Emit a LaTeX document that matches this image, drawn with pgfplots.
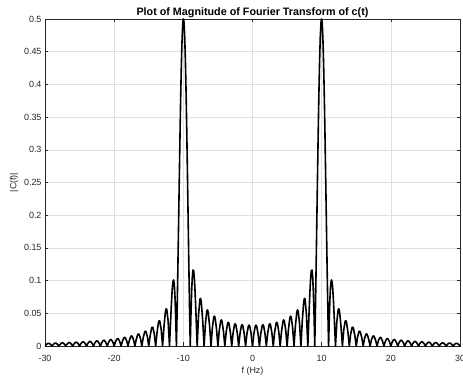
\documentclass[border=0pt]{standalone}
\usepackage{pgfplots}
\pgfplotsset{compat=1.18}
\usepackage{pgfplotstable}
\usepackage{fontspec}
\setmainfont{Liberation Sans}
\definecolor{axgray}{gray}{0.15}
\definecolor{gridgray}{gray}{0.88}

\pgfplotstableread{
f v
0 0
0.2 0.01872
0.4 0.03032
0.5 0.03191
0.6 0.03038
0.8 0.01883
1 0
1.2 0.01898
1.4 0.03088
1.5 0.03256
1.6 0.03107
1.8 0.01934
2 0
2.2 0.01966
2.4 0.03213
2.5 0.03395
2.6 0.03247
2.8 0.02030
3 0
3.2 0.02084
3.4 0.03423
3.5 0.03628
3.6 0.03478
3.8 0.02187
4 0
4.2 0.02272
4.4 0.03754
4.5 0.03991
4.6 0.03840
4.8 0.02431
5 0
5.2 0.02564
5.4 0.04274
5.5 0.04564
5.6 0.04411
5.8 0.02820
6 0
6.2 0.03039
6.4 0.05128
6.5 0.05512
6.6 0.05364
6.8 0.03480
7 0
7.2 0.03885
7.4 0.06692
7.5 0.07276
7.6 0.07167
7.8 0.04778
8 0
8.1 0.02860
8.2 0.05711
8.3 0.08277
8.4 0.10284
8.5 0.11471
8.6 0.11626
8.7 0.10593
8.8 0.08294
8.9 0.04731
9 0
9.1 0.0572
9.2 0.1218
9.3 0.1906
9.4 0.2601
9.5 0.3265
9.6 0.3861
9.7 0.4357
9.8 0.4725
9.9 0.4943
9.95 0.4992
10 0.5
10.05 0.4967
10.1 0.4894
10.2 0.4631
10.3 0.4229
10.4 0.3710
10.5 0.3105
10.6 0.2449
10.7 0.1777
10.8 0.1124
10.9 0.0523
11 0
11.1 0.04238
11.2 0.07355
11.3 0.09300
11.4 0.10105
11.5 0.09870
11.6 0.08760
11.7 0.06981
11.8 0.04768
11.9 0.02364
12 0
12.2 0.03831
12.4 0.05631
12.5 0.05659
12.6 0.05152
12.8 0.02931
13 0
13.2 0.02520
13.4 0.03805
13.5 0.03870
13.6 0.03563
13.8 0.02069
14 0
14.2 0.01841
14.4 0.02820
14.5 0.02887
14.6 0.02675
14.8 0.01572
15 0
15.2 0.01428
15.4 0.02207
15.5 0.02270
15.6 0.02112
15.8 0.01250
16 0
16.2 0.01152
16.4 0.01792
16.5 0.01848
16.6 0.01724
16.8 0.01027
17 0
17.2 0.00955
17.4 0.01493
17.5 0.01543
17.6 0.01443
17.8 0.00863
18 0
18.2 0.00809
18.4 0.01269
18.5 0.01314
18.6 0.01231
18.8 0.00738
19 0
19.2 0.00696
19.4 0.01095
19.5 0.01136
19.6 0.01065
19.8 0.00641
20 0
20.2 0.00607
20.4 0.00958
20.5 0.00994
20.6 0.00933
20.8 0.00562
21 0
21.2 0.00535
21.4 0.00846
21.5 0.00879
21.6 0.00826
21.8 0.00499
22 0
22.2 0.00476
22.4 0.00754
22.5 0.00784
22.6 0.00737
22.8 0.00446
23 0
23.2 0.00427
23.4 0.00676
23.5 0.00704
23.6 0.00663
23.8 0.00401
24 0
24.2 0.00385
24.4 0.00611
24.5 0.00636
24.6 0.00599
24.8 0.00363
25 0
25.2 0.00350
25.4 0.00555
25.5 0.00579
25.6 0.00545
25.8 0.00331
26 0
26.2 0.00319
26.4 0.00507
26.5 0.00529
26.6 0.00498
26.8 0.00303
27 0
27.2 0.00292
27.4 0.00465
27.5 0.00485
27.6 0.00457
27.8 0.00278
28 0
28.2 0.00269
28.4 0.00428
28.5 0.00447
28.6 0.00422
28.8 0.00257
29 0
29.2 0.00249
29.4 0.00396
29.5 0.00413
29.6 0.00390
29.8 0.00237
30 0
}\pos

\pgfplotstableread{
f v
-0 0
-0.2 0.01872
-0.4 0.03032
-0.5 0.03191
-0.6 0.03038
-0.8 0.01883
-1 0
-1.2 0.01898
-1.4 0.03088
-1.5 0.03256
-1.6 0.03107
-1.8 0.01934
-2 0
-2.2 0.01966
-2.4 0.03213
-2.5 0.03395
-2.6 0.03247
-2.8 0.02030
-3 0
-3.2 0.02084
-3.4 0.03423
-3.5 0.03628
-3.6 0.03478
-3.8 0.02187
-4 0
-4.2 0.02272
-4.4 0.03754
-4.5 0.03991
-4.6 0.03840
-4.8 0.02431
-5 0
-5.2 0.02564
-5.4 0.04274
-5.5 0.04564
-5.6 0.04411
-5.8 0.02820
-6 0
-6.2 0.03039
-6.4 0.05128
-6.5 0.05512
-6.6 0.05364
-6.8 0.03480
-7 0
-7.2 0.03885
-7.4 0.06692
-7.5 0.07276
-7.6 0.07167
-7.8 0.04778
-8 0
-8.1 0.02860
-8.2 0.05711
-8.3 0.08277
-8.4 0.10284
-8.5 0.11471
-8.6 0.11626
-8.7 0.10593
-8.8 0.08294
-8.9 0.04731
-9 0
-9.1 0.0572
-9.2 0.1218
-9.3 0.1906
-9.4 0.2601
-9.5 0.3265
-9.6 0.3861
-9.7 0.4357
-9.8 0.4725
-9.9 0.4943
-9.95 0.4992
-10 0.5
-10.05 0.4967
-10.1 0.4894
-10.2 0.4631
-10.3 0.4229
-10.4 0.3710
-10.5 0.3105
-10.6 0.2449
-10.7 0.1777
-10.8 0.1124
-10.9 0.0523
-11 0
-11.1 0.04238
-11.2 0.07355
-11.3 0.09300
-11.4 0.10105
-11.5 0.09870
-11.6 0.08760
-11.7 0.06981
-11.8 0.04768
-11.9 0.02364
-12 0
-12.2 0.03831
-12.4 0.05631
-12.5 0.05659
-12.6 0.05152
-12.8 0.02931
-13 0
-13.2 0.02520
-13.4 0.03805
-13.5 0.03870
-13.6 0.03563
-13.8 0.02069
-14 0
-14.2 0.01841
-14.4 0.02820
-14.5 0.02887
-14.6 0.02675
-14.8 0.01572
-15 0
-15.2 0.01428
-15.4 0.02207
-15.5 0.02270
-15.6 0.02112
-15.8 0.01250
-16 0
-16.2 0.01152
-16.4 0.01792
-16.5 0.01848
-16.6 0.01724
-16.8 0.01027
-17 0
-17.2 0.00955
-17.4 0.01493
-17.5 0.01543
-17.6 0.01443
-17.8 0.00863
-18 0
-18.2 0.00809
-18.4 0.01269
-18.5 0.01314
-18.6 0.01231
-18.8 0.00738
-19 0
-19.2 0.00696
-19.4 0.01095
-19.5 0.01136
-19.6 0.01065
-19.8 0.00641
-20 0
-20.2 0.00607
-20.4 0.00958
-20.5 0.00994
-20.6 0.00933
-20.8 0.00562
-21 0
-21.2 0.00535
-21.4 0.00846
-21.5 0.00879
-21.6 0.00826
-21.8 0.00499
-22 0
-22.2 0.00476
-22.4 0.00754
-22.5 0.00784
-22.6 0.00737
-22.8 0.00446
-23 0
-23.2 0.00427
-23.4 0.00676
-23.5 0.00704
-23.6 0.00663
-23.8 0.00401
-24 0
-24.2 0.00385
-24.4 0.00611
-24.5 0.00636
-24.6 0.00599
-24.8 0.00363
-25 0
-25.2 0.00350
-25.4 0.00555
-25.5 0.00579
-25.6 0.00545
-25.8 0.00331
-26 0
-26.2 0.00319
-26.4 0.00507
-26.5 0.00529
-26.6 0.00498
-26.8 0.00303
-27 0
-27.2 0.00292
-27.4 0.00465
-27.5 0.00485
-27.6 0.00457
-27.8 0.00278
-28 0
-28.2 0.00269
-28.4 0.00428
-28.5 0.00447
-28.6 0.00422
-28.8 0.00257
-29 0
-29.2 0.00249
-29.4 0.00396
-29.5 0.00413
-29.6 0.00390
-29.8 0.00237
-30 0
}\negt

\begin{document}
\begin{tikzpicture}
\begin{axis}[
  scale only axis,
  width=415bp, height=327bp,
  xmin=-30, xmax=30, ymin=0, ymax=0.5,
  xtick={-30,-20,-10,0,10,20,30},
  ytick={0,0.05,0.1,0.15,0.2,0.25,0.3,0.35,0.4,0.45,0.5},
  grid=major,
  major grid style={gridgray, line width=0.5bp},
  axis line style={axgray, line width=0.5bp},
  tick style={axgray, line width=0.5bp},
  tick align=inside,
  major tick length=3.5bp,
  /pgf/number format/assume math mode=true,
  ticklabel style={font=\fontsize{9}{10}\selectfont, text=axgray},
  yticklabel style={/pgf/number format/fixed, /pgf/number format/precision=2},
  scaled y ticks=false,
  xticklabel style={anchor=center, yshift=-12bp},
  title={Plot of Magnitude of Fourier Transform of c(t)},
  title style={font=\fontsize{10.8}{12}\selectfont\bfseries, at={(axis description cs:0.5,1)}, anchor=base, yshift=-2bp},
  xlabel={f (Hz)},
  ylabel={|C(f)|},
  label style={font=\fontsize{9}{10}\selectfont, text=axgray},
  xlabel style={at={(axis description cs:0.5,-0.0765)}, anchor=center},
  ylabel style={at={(axis description cs:-0.0747,0.5)}, anchor=center},
  clip=true,
]
\addplot[black, line width=1.6bp, line join=round] table[x=f, y=v] {\pos};
\addplot[black, line width=1.6bp, line join=round] table[x=f, y=v] {\negt};
\end{axis}
\pgfresetboundingbox
\path ([xshift=-45bp,yshift=-31bp]current axis.south west) rectangle ([xshift=3bp,yshift=19bp]current axis.north east);
\end{tikzpicture}
\end{document}
